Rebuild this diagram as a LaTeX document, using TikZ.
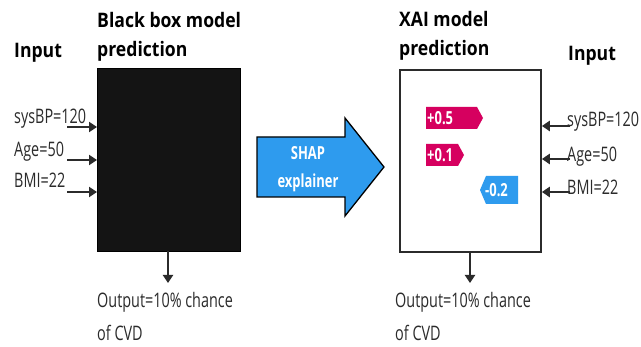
\documentclass[tikz,border=0pt]{standalone}
\usepackage{fontspec}
\setmainfont{Open Sans}[FakeStretch=0.72]
\newfontfamily\ttlfont{Open Sans}[FakeStretch=0.88]
\usetikzlibrary{arrows.meta}
\definecolor{shapblue}{HTML}{2E9BEE}
\definecolor{shapred}{HTML}{D6005F}
\definecolor{dk}{HTML}{2B2B2B}
\tikzset{
  lbl/.style={anchor=base west, inner sep=0pt, font=\fontsize{20}{20}\selectfont, text=dk},
  ttl/.style={anchor=base west, inner sep=0pt, font=\ttlfont\fontsize{20}{20}\selectfont\bfseries, text=black},
  conn/.style={draw=dk, line width=2.2pt, -{Triangle[width=10pt,length=8pt]}},
  tagtxt/.style={inner sep=0pt, text=white, font=\fontsize{18}{18}\selectfont\bfseries},
}
\begin{document}
\begin{tikzpicture}[x=1pt,y=-1pt]
\path[use as bounding box, fill=white] (0,0) rectangle (641,347);
% left block
\node[ttl] (inL) at (14,58) {Input};
\node[ttl] (bb1) at (97,28) {Black box model};
\node[ttl] (bb2) at (97,57) {prediction};
\node[draw=black, fill=black!92, minimum width=143pt, minimum height=183pt, inner sep=0pt, anchor=north west] (bbox) at (97,68) {};
\node[lbl] (s1) at (14,124) {sysBP=120};
\node[lbl] (s2) at (14,157) {Age=50};
\node[lbl] (s3) at (14,188) {BMI=22};
\coordinate (a1) at (67,127);
\coordinate (a2) at (67,160);
\coordinate (a3) at (67,192);
\draw[conn] (a1) -- (a1 -| bbox.west);
\draw[conn] (a2) -- (a2 -| bbox.west);
\draw[conn] (a3) -- (a3 -| bbox.west);
\coordinate (o1) at (168,283);
\draw[conn] (o1 |- bbox.south) -- (o1);
\node[lbl] (out1) at (97,308) {Output=10\% chance};
\node[lbl] (out1b) at (97,341) {of CVD};
% SHAP arrow
\draw[draw=black, line width=1.3pt, fill=shapblue, line join=miter]
  (257,137) -- (345,137) -- (345,118) -- (384,167) -- (345,216) -- (345,197) -- (257,197) -- cycle;
\node[inner sep=0pt, text=white, font=\fontsize{18}{18}\selectfont\bfseries, anchor=base] (shap1) at (308,160) {SHAP};
\node[inner sep=0pt, text=white, font=\fontsize{18}{18}\selectfont\bfseries, anchor=base] (shap2) at (308,188) {explainer};
% right block
\node[ttl] (xai1) at (399,27) {XAI model};
\node[ttl] (xai2) at (399,56) {prediction};
\node[ttl] (inR) at (568,61) {Input};
\node[draw=dk, line width=1.8pt, fill=white, minimum width=141pt, minimum height=182pt, inner sep=0pt, anchor=north west] (xbox) at (399,69) {};
\node[lbl] (r1) at (567,127) {sysBP=120};
\node[lbl] (r2) at (567,162) {Age=50};
\node[lbl] (r3) at (567,195) {BMI=22};
\coordinate (b1) at (570,126);
\coordinate (b2) at (570,159);
\coordinate (b3) at (570,192);
\draw[conn] (b1) -- (b1 -| xbox.east);
\draw[conn] (b2) -- (b2 -| xbox.east);
\draw[conn] (b3) -- (b3 -| xbox.east);
\coordinate (o2) at (470,283);
\draw[conn] (o2 |- xbox.south) -- (o2);
\node[lbl] (out2) at (395,308) {Output=10\% chance};
\node[lbl] (out2b) at (395,341) {of CVD};
% tags
\fill[shapred] (426,107) -- (477,107) -- (483,118) -- (477,129) -- (426,129) -- cycle;
\node[tagtxt, anchor=base west] (t1) at (427,125) {+0.5};
\fill[shapred] (426,144) -- (458,144) -- (464,155) -- (458,166) -- (426,166) -- cycle;
\node[tagtxt, anchor=base west] (t2) at (427,162) {+0.1};
\fill[shapblue] (486,176) -- (518,176) -- (518,204) -- (486,204) -- (480,190) -- cycle;
\node[tagtxt, anchor=base west] (t3) at (485,197) {-0.2};
\end{tikzpicture}
\end{document}
